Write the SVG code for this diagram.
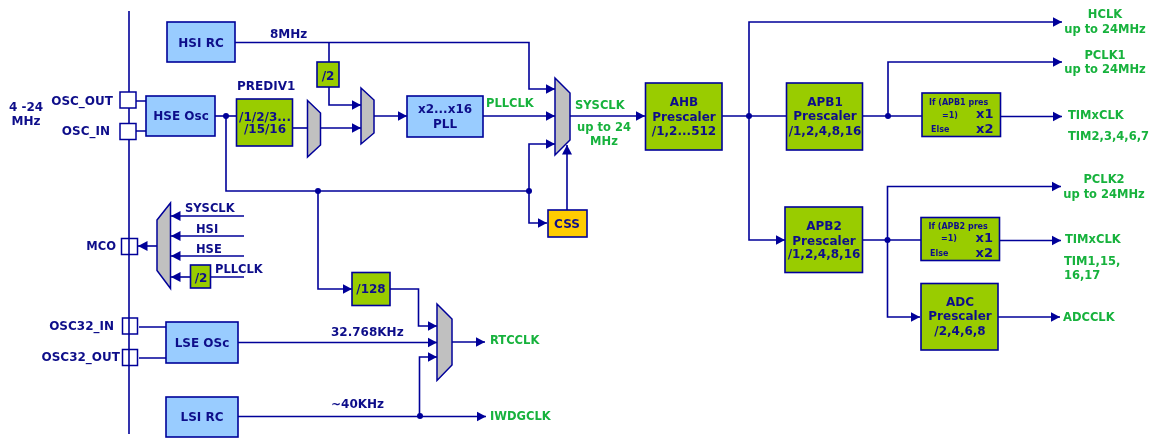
<svg xmlns="http://www.w3.org/2000/svg" width="1162" height="439" viewBox="0 0 1162 439">
<style>
text{font-family:"DejaVu Sans","Liberation Sans",sans-serif;font-weight:700;font-size:12px;fill:#10108a}
.g{fill:#17b23c;font-size:11.5px}
.n{font-size:11.5px}
.m{text-anchor:middle}
.s{font-size:8px}
.x{font-size:13px}
.box{stroke:#000099;stroke-width:1.6}
.blue{fill:#99ccff}
.green{fill:#99cc00}
.orange{fill:#ffcc00}
.mux{fill:#c0c0c0;stroke:#000099;stroke-width:1.5}
.pin{fill:#fff;stroke:#000099;stroke-width:1.5}
.none{fill:none}
#connectors path{fill:none;stroke:#000099;stroke-width:1.6}
#connectors path.a{marker-end:url(#arrow)}
#connectors circle{fill:#000099}
</style>
<defs>
<marker id="arrow" markerUnits="userSpaceOnUse" markerWidth="11" markerHeight="11" refX="9.500" refY="5.500" orient="auto"><path d="M0 .5L9.500 5.500L0 10.500Z" fill="#000099"/></marker>
<filter id="soft" x="-2%" y="-2%" width="104%" height="104%"><feGaussianBlur stdDeviation="0.4"/></filter>
</defs>
<rect width="1162" height="439" fill="#fff"/>
<g filter="url(#soft)">
<g id="connectors">
<path d="M129 11V434"/>
<path d="M136 101H146M136 131H146M139 327H166M139 358H166"/>
<path d="M235 42.500H529V89H555" class="a"/>
<path d="M329 42.500V62"/>
<path d="M329 87V105H361" class="a"/>
<path d="M215 116H236"/>
<path d="M292 128H307"/>
<path d="M320 128H361" class="a"/>
<path d="M374 116H407" class="a"/>
<path d="M483 116H555" class="a"/>
<path d="M570 116H645" class="a"/>
<path d="M226 116V191H529V144H555" class="a"/>
<path d="M529 191V223H547" class="a"/>
<path d="M567 210V145" class="a"/>
<path d="M318 191V289H352" class="a"/>
<path d="M722 116H786"/>
<path d="M749 116V22H1062" class="a"/>
<path d="M749 116V240H785" class="a"/>
<path d="M863 116H922"/>
<path d="M888 116V62H1062" class="a"/>
<path d="M1001 116.500H1062" class="a"/>
<path d="M863 240H921"/>
<path d="M887.500 240V186.500H1061" class="a"/>
<path d="M887.500 240V317H920" class="a"/>
<path d="M999 240.500H1061" class="a"/>
<path d="M998 317H1060" class="a"/>
<path d="M157 246H138" class="a"/>
<path d="M244 216H171" class="a"/>
<path d="M244 236H171" class="a"/>
<path d="M244 256H171" class="a"/>
<path d="M190 277H171" class="a"/>
<path d="M211 277H244"/>
<path d="M390 289H418.500V326H437" class="a"/>
<path d="M238 342.500H437" class="a"/>
<path d="M419.500 416V357H437" class="a"/>
<path d="M452 342H485" class="a"/>
<path d="M238 416.500H486" class="a"/>
<circle cx="226" cy="116" r="3"/>
<circle cx="318" cy="191" r="3"/>
<circle cx="529" cy="191" r="3"/>
<circle cx="749" cy="116" r="3"/>
<circle cx="888" cy="116" r="3"/>
<circle cx="887.500" cy="240" r="3"/>
<circle cx="420" cy="416" r="3"/>
</g>
<g id="pin-osc-out"><rect class="pin" x="120" y="92" width="16" height="16"/><text x="113" y="105" text-anchor="end">OSC_OUT</text></g>
<g id="pin-osc-in"><rect class="pin" x="120" y="123.500" width="16" height="16"/><text x="110" y="135" text-anchor="end">OSC_IN</text></g>
<g id="pin-mco"><rect class="pin none" x="121.500" y="238.500" width="16" height="16"/><text class="n" x="116" y="250" text-anchor="end">MCO</text></g>
<g id="pin-osc32-in"><rect class="pin none" x="122.500" y="318" width="15" height="16"/><text x="114" y="330" text-anchor="end">OSC32_IN</text></g>
<g id="pin-osc32-out"><rect class="pin none" x="122.500" y="349.500" width="15" height="16"/><text x="120" y="361" text-anchor="end">OSC32_OUT</text></g>
<g id="label-crystal"><text class="m" x="26" y="111">4 -24</text><text class="m" x="26" y="125">MHz</text></g>
<g id="hsi-rc"><rect class="box blue" x="167" y="22" width="68" height="40"/><text class="m" x="201" y="47">HSI RC</text></g>
<g id="hse-osc"><rect class="box blue" x="146" y="96" width="69" height="40"/><text class="m" x="181" y="120">HSE Osc</text></g>
<g id="prediv1"><rect class="box green" x="236.500" y="99" width="56" height="47"/><text class="m" x="265" y="121">/1/2/3...</text><text class="m" x="265" y="133">/15/16</text><text x="237" y="90">PREDIV1</text></g>
<g id="div2-hsi"><rect class="box green" x="317" y="62" width="22" height="25"/><text class="m" x="328" y="80">/2</text></g>
<g id="mux-prediv"><path class="mux" d="M307.500 100.500L320.500 113V145L307.500 157Z"/></g>
<g id="mux-pll"><path class="mux" d="M361 88L374 100V133L361 144Z"/></g>
<g id="pll"><rect class="box blue" x="407" y="96" width="76" height="41"/><text class="m" x="445" y="113">x2...x16</text><text class="m" x="445" y="128">PLL</text><text class="g" x="486" y="107">PLLCLK</text></g>
<g id="mux-sysclk"><path class="mux" d="M555 78L570 93V140L555 155Z"/><text class="g" x="575" y="109">SYSCLK</text><text class="g m" x="604" y="131">up to 24</text><text class="g m" x="604" y="145">MHz</text></g>
<g id="css"><rect class="box orange" x="548" y="210" width="39" height="27"/><text class="m" x="567" y="228">CSS</text></g>
<g id="ahb"><rect class="box green" x="645.500" y="83" width="76.500" height="67"/><text class="m" x="684" y="106">AHB</text><text class="m" x="684" y="121">Prescaler</text><text class="m" x="684" y="135">/1,2...512</text></g>
<g id="apb1"><rect class="box green" x="786.500" y="83" width="76" height="67"/><text class="m" x="825" y="106">APB1</text><text class="m" x="825" y="120">Prescaler</text><text class="m" x="825" y="135">/1,2,4,8,16</text></g>
<g id="apb2"><rect class="box green" x="785" y="207" width="77.500" height="65.500"/><text class="m" x="824" y="230">APB2</text><text class="m" x="824" y="245">Prescaler</text><text class="m" x="824" y="258">/1,2,4,8,16</text></g>
<g id="tim1-mult"><rect class="box green" x="922" y="93" width="78.500" height="43.500"/><text class="s" x="929" y="105">If (APB1 pres</text><text class="s" x="942" y="118">=1)</text><text class="x" x="976" y="118">x1</text><text class="s" x="931" y="132">Else</text><text class="x" x="976" y="133">x2</text></g>
<g id="tim2-mult"><rect class="box green" x="921" y="217.500" width="78.500" height="43"/><text class="s" x="928.500" y="229">If (APB2 pres</text><text class="s" x="941" y="241">=1)</text><text class="x" x="975.500" y="242">x1</text><text class="s" x="930" y="256">Else</text><text class="x" x="975.500" y="257">x2</text></g>
<g id="adc"><rect class="box green" x="921" y="283.500" width="77" height="66.500"/><text class="m" x="960" y="306">ADC</text><text class="m" x="960" y="320">Prescaler</text><text class="m" x="960" y="335">/2,4,6,8</text></g>
<g id="mux-mco"><path class="mux" d="M157 220L170.500 203V288.500L157 270.500Z"/></g>
<g id="mco-sources"><text class="n" x="185" y="212">SYSCLK</text><text class="n" x="196" y="233">HSI</text><text class="n" x="196" y="253">HSE</text><text class="n" x="215" y="273">PLLCLK</text></g>
<g id="div2-pll"><rect class="box green" x="190.500" y="265" width="20" height="23"/><text class="m" x="201" y="282">/2</text></g>
<g id="div128"><rect class="box green" x="352" y="272.500" width="38" height="33"/><text class="m" x="371" y="293">/128</text></g>
<g id="lse-osc"><rect class="box blue" x="166" y="322" width="72" height="41"/><text class="m" x="202" y="347">LSE OSc</text></g>
<g id="lsi-rc"><rect class="box blue" x="166" y="397" width="72" height="40"/><text class="m" x="202" y="421">LSI RC</text></g>
<g id="mux-rtc"><path class="mux" d="M437 304L452 319V365L437 380.500Z"/></g>
<g id="labels">
<text x="270" y="38">8MHz</text>
<text x="331" y="336">32.768KHz</text>
<text x="331" y="408">~40KHz</text>
<text class="g" x="490" y="344">RTCCLK</text>
<text class="g" x="490" y="420">IWDGCLK</text>
<text class="g m" x="1105" y="18">HCLK</text>
<text class="g m" x="1105" y="33">up to 24MHz</text>
<text class="g m" x="1105" y="59">PCLK1</text>
<text class="g m" x="1105" y="73">up to 24MHz</text>
<text class="g" x="1068" y="119">TIMxCLK</text>
<text class="g" x="1068" y="140">TIM2,3,4,6,7</text>
<text class="g m" x="1104" y="183">PCLK2</text>
<text class="g m" x="1104" y="198">up to 24MHz</text>
<text class="g" x="1065" y="243">TIMxCLK</text>
<text class="g" x="1064" y="265">TIM1,15,</text>
<text class="g" x="1064" y="279">16,17</text>
<text class="g" x="1063" y="321">ADCCLK</text>
</g>
</g>
</svg>
